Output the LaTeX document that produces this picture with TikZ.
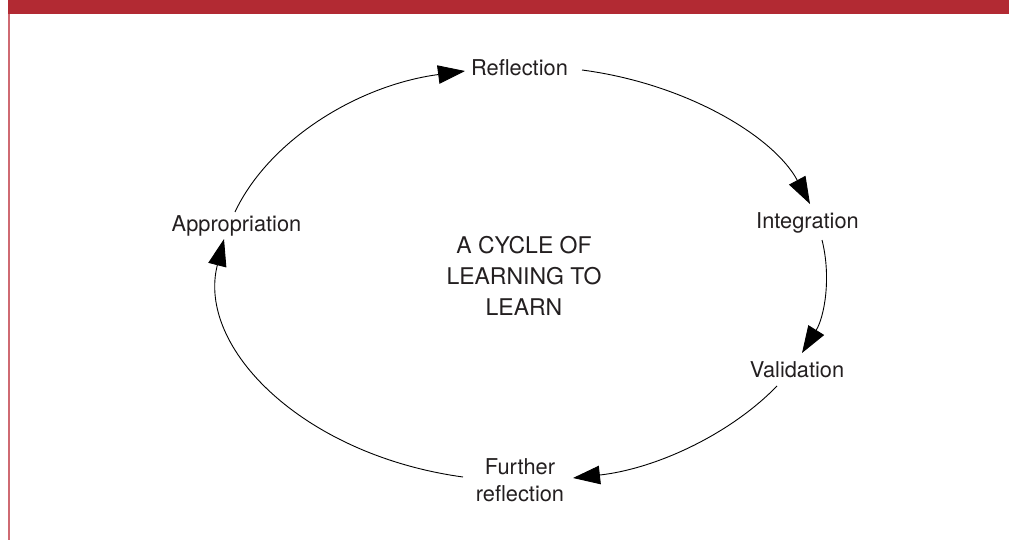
\documentclass[tikz,border=0pt]{standalone}
\usepackage{fontspec}
\setmainfont{TeX Gyre Heros}
\usetikzlibrary{arrows.meta}
\definecolor{band}{RGB}{178,42,51}
\definecolor{edgeline}{RGB}{207,106,114}
\definecolor{txt}{RGB}{35,31,32}
\begin{document}
\begin{tikzpicture}[x=1pt,y=-1pt,
  lbl/.style={font=\fontsize{21.8}{27}\selectfont, text=txt, inner sep=0pt, anchor=base, align=center},
  ctr/.style={font=\fontsize{23}{31}\selectfont, text=txt, inner sep=0pt, anchor=base, align=center},
  flow/.style={draw=black, line width=0.9pt, -{Triangle[length=27pt,width=18.5pt]}}]
\useasboundingbox (0,0) rectangle (1009,540);
\fill[band] (8,0) rectangle (1009,14);
\fill[edgeline] (8,14) rectangle (10,540);
\node[lbl] (refl) at (519.5,76) {Reflection};
\node[lbl] (integ) at (807.5,229) {Integration};
\node[lbl] (valid) at (797,377) {Validation};
\node[lbl] (furth) at (520,501) {Further\\reflection};
\node[lbl] (appr) at (236.5,232) {Appropriation};
\node[ctr] (title) at (524,315) {A CYCLE OF\\LEARNING TO\\LEARN};
\draw[flow] ([shift={(-1.5,-20)}]appr.base) .. controls +(33.4,-71.0) and +(-108.3,14.4) .. ([shift={(-54.5,-5)}]refl.base);
\draw[flow] ([shift={(62.5,-6)}]refl.base) .. controls +(104.3,13.7) and +(-36.2,-67.5) .. ([shift={(2.5,-25)}]integ.base);
\draw[flow] ([shift={(14.5,11)}]integ.base) .. controls +(9.6,38.2) and +(22.2,-35.7) .. ([shift={(5,-24)}]valid.base);
\draw[flow] ([shift={(-20,9)}]valid.base) .. controls +(-46.4,47.9) and +(83.6,-9.3) .. ([shift={(53,-23)}]furth.base);
\draw[flow] ([shift={(-57,-24)}]furth.base) .. controls +(-160.0,-22.0) and +(-27.8,108.7) .. ([shift={(-12.5,7)}]appr.base);
\end{tikzpicture}
\end{document}
